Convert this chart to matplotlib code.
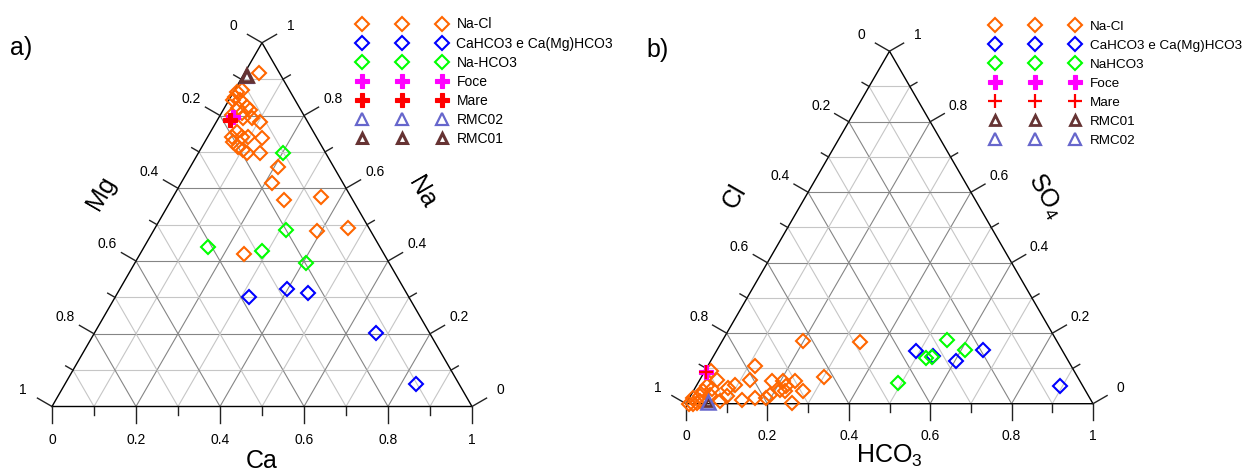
import numpy as np
import matplotlib.pyplot as plt
from matplotlib.lines import Line2D

plt.rcParams['font.family'] = ['Liberation Sans', 'DejaVu Sans']
plt.rcParams['mathtext.fontset'] = 'custom'
plt.rcParams['mathtext.rm'] = 'Liberation Sans'
plt.rcParams['mathtext.it'] = 'Liberation Sans:italic'

SQ = np.sqrt(3) / 2

ORANGE = '#ff6600'
BLUE = '#0000ff'
GREEN = '#00ff00'
MAGENTA = '#ff00ff'
RED = '#ff0000'
SLATE = '#6666cc'
BROWN = '#663333'

# ---- a) cations, fractions (Ca, Mg, Na)
nacl_ca = [0.036, 0.007, 0.017, 0.010, 0.026, 0.010, 0.052, 0.033, 0.064, 0.027, 0.048,
           0.058, 0.079, 0.104, 0.062, 0.081, 0.096, 0.067, 0.086, 0.102, 0.146, 0.130,
           0.115, 0.208, 0.217, 0.268, 0.354, 0.389, 0.460, 0.247, 0.057]
nacl_mg = [0.048, 0.127, 0.113, 0.138, 0.131, 0.147, 0.124, 0.146, 0.121, 0.172, 0.145,
           0.149, 0.128, 0.113, 0.182, 0.177, 0.162, 0.205, 0.200, 0.193, 0.157, 0.132,
           0.188, 0.133, 0.168, 0.164, 0.071, 0.128, 0.049, 0.334, 0.201]
nacl_na = [0.916, 0.866, 0.870, 0.852, 0.843, 0.843, 0.824, 0.821, 0.815, 0.801, 0.807,
           0.793, 0.793, 0.783, 0.756, 0.742, 0.742, 0.728, 0.714, 0.705, 0.697, 0.738,
           0.697, 0.659, 0.615, 0.568, 0.575, 0.483, 0.491, 0.419, 0.742]

cahco3_ca = [0.318, 0.398, 0.453, 0.669, 0.836]
cahco3_mg = [0.381, 0.280, 0.234, 0.128, 0.102]
cahco3_na = [0.301, 0.322, 0.313, 0.203, 0.062]

nahco3_ca = [0.201, 0.314, 0.152, 0.286, 0.407]
nahco3_mg = [0.102, 0.201, 0.410, 0.286, 0.198]
nahco3_na = [0.697, 0.485, 0.438, 0.428, 0.395]

foce_a = (0.033, 0.170, 0.797)
mare_a = (0.030, 0.182, 0.788)
rmc02_a = (0.011, 0.084, 0.905)
rmc01_a = (0.009, 0.082, 0.909)

# ---- b) anions, fractions (HCO3, Cl, SO4)
nacl_hco3 = [0.198, 0.341, 0.117, 0.301, 0.123, 0.093, 0.081, 0.041, 0.026, 0.025, 0.179,
             0.206, 0.222, 0.236, 0.211, 0.270, 0.259, 0.189, 0.161, 0.131, 0.090, 0.081,
             0.025, 0.017, 0.007, 0.024, 0.046, 0.193, 0.226, 0.043, 0.014, 0.010, 0.030]
nacl_cl = [0.625, 0.485, 0.777, 0.623, 0.809, 0.853, 0.874, 0.891, 0.925, 0.940, 0.758,
           0.731, 0.729, 0.701, 0.749, 0.695, 0.738, 0.794, 0.822, 0.858, 0.889, 0.912,
           0.973, 0.983, 0.993, 0.955, 0.928, 0.781, 0.739, 0.914, 0.892, 0.975, 0.962]
nacl_so4 = [0.177, 0.174, 0.106, 0.076, 0.068, 0.054, 0.045, 0.068, 0.049, 0.035, 0.063,
            0.063, 0.049, 0.063, 0.040, 0.035, 0.003, 0.017, 0.017, 0.011, 0.021, 0.007,
            0.002, 0.000, 0.000, 0.021, 0.026, 0.026, 0.035, 0.043, 0.094, 0.015, 0.008]

cahco3_hco3 = [0.489, 0.541, 0.603, 0.654, 0.894]
cahco3_cl = [0.361, 0.325, 0.277, 0.195, 0.057]
cahco3_so4 = [0.150, 0.134, 0.120, 0.151, 0.049]

nahco3_hco3 = [0.551, 0.525, 0.538, 0.610, 0.492]
nahco3_cl = [0.269, 0.345, 0.330, 0.239, 0.448]
nahco3_so4 = [0.180, 0.130, 0.132, 0.151, 0.060]

foce_b = (0.005, 0.906, 0.089)
mare_b = (0.003, 0.906, 0.091)
rmc01_b = (0.053, 0.943, 0.004)
rmc02_b = (0.053, 0.943, 0.004)


def tern(a, b, c):
    # a: bottom-right vertex, b: bottom-left vertex, c: apex
    a, b, c = (np.atleast_1d(np.asarray(v, float)) for v in (a, b, c))
    s = a + b + c
    return (a + c / 2) / s, c * SQ / s


def frame(ax, left_name, right_name, bottom_name):
    for i in range(1, 10):
        t = i / 10
        col = '#858585' if i % 2 == 0 else '#c6c6c6'
        kw = dict(color=col, lw=0.8, zorder=1)
        ax.plot([t / 2, 1 - t / 2], [t * SQ, t * SQ], **kw)
        ax.plot([t, (1 + t) / 2], [0, (1 - t) * SQ], **kw)
        ax.plot([1 - t, (1 - t) / 2], [0, (1 - t) * SQ], **kw)
    ax.plot([0, 1, 0.5, 0], [0, 0, SQ, 0], color='black', lw=1.0, zorder=2)

    d = 0.079
    for i in range(11):
        t = i / 10
        L = 0.04 if i % 2 == 0 else 0.02
        kw = dict(color='#222222', lw=1.0, zorder=2, clip_on=False)
        ax.plot([t, t], [0, -L], **kw)
        px, py = (1 - t) / 2, (1 - t) * SQ
        ax.plot([px, px - L * SQ], [py, py + L / 2], **kw)
        qx, qy = 1 - t / 2, t * SQ
        ax.plot([qx, qx + L * SQ], [qy, qy + L / 2], **kw)
        if i % 2 == 0:
            lab = f'{t:g}'
            tk = dict(ha='center', va='center', fontsize=10)
            ax.text(t, -d, lab, **tk)
            ax.text(px - d * SQ, py + d / 2, lab, **tk)
            ax.text(qx + d * SQ, qy + d / 2, lab, **tk)

    D = 0.152
    ax.text(0.25 - D * SQ, SQ / 2 + D / 2, left_name, rotation=60, fontsize=18,
            ha='center', va='center', rotation_mode='anchor')
    ax.text(0.75 + D * SQ, SQ / 2 + D / 2, right_name, rotation=-60, fontsize=18,
            ha='center', va='center', rotation_mode='anchor')
    ax.text(0.5, -0.146, bottom_name, fontsize=18, ha='center', va='baseline')


fig = plt.figure(figsize=(12.45, 4.71), dpi=100)

axa = fig.add_axes([0, 0, 622 / 1245, 1])
axa.set_xlim(-52 / 420, 570 / 420)
axa.set_ylim(-64.5 / 420, 406.5 / 420)
axa.axis('off')

axb = fig.add_axes([622 / 1245, 0, 623 / 1245, 1])
axb.set_xlim(-64 / 407, 559 / 407)
axb.set_ylim(-67.3 / 407, 403.7 / 407)
axb.axis('off')

frame(axa, 'Mg', 'Na', 'Ca')
frame(axb, 'Cl', r'SO$_4$', r'HCO$_3$')

dia = dict(marker='D', ms=7.3, mfc='none', mew=1.5, ls='none')

# a)
sty_a = [
    ('Na-Cl', (nacl_ca, nacl_mg, nacl_na), dict(dia, mec=ORANGE)),
    ('CaHCO3 e Ca(Mg)HCO3', (cahco3_ca, cahco3_mg, cahco3_na), dict(dia, mec=BLUE)),
    ('Na-HCO3', (nahco3_ca, nahco3_mg, nahco3_na), dict(dia, mec=GREEN)),
    ('Foce', foce_a, dict(marker='P', ms=10.5, mfc=MAGENTA, mec=MAGENTA, mew=0.8, ls='none')),
    ('Mare', mare_a, dict(marker='P', ms=10.5, mfc=RED, mec=RED, mew=0.8, ls='none')),
    ('RMC02', rmc02_a, dict(marker='^', ms=9, mfc='none', mec=SLATE, mew=1.6, ls='none')),
    ('RMC01', rmc01_a, dict(marker='^', ms=8, mfc='none', mec=BROWN, mew=2.6, ls='none')),
]
leg_a = {'RMC02': dict(ms=9), 'RMC01': dict(ms=6.5, mew=2.2)}

# b)
sty_b = [
    ('Na-Cl', (nacl_hco3, nacl_cl, nacl_so4), dict(dia, mec=ORANGE)),
    ('CaHCO3 e Ca(Mg)HCO3', (cahco3_hco3, cahco3_cl, cahco3_so4), dict(dia, mec=BLUE)),
    ('NaHCO3', (nahco3_hco3, nahco3_cl, nahco3_so4), dict(dia, mec=GREEN)),
    ('Foce', foce_b, dict(marker='P', ms=10.5, mfc=MAGENTA, mec=MAGENTA, mew=0.8, ls='none')),
    ('Mare', mare_b, dict(marker='+', ms=10.5, mec=RED, mew=1.6, ls='none')),
    ('RMC01', rmc01_b, dict(marker='^', ms=6, mfc='none', mec=BROWN, mew=2.0, ls='none')),
    ('RMC02', rmc02_b, dict(marker='^', ms=10.5, mfc='none', mec=SLATE, mew=1.8, ls='none')),
]
leg_b = {'RMC01': dict(ms=6.5, mew=2.0), 'RMC02': dict(ms=9, mew=1.6)}


def draw(ax, styles, leg_over, x0, y0, fs, spacing):
    handles, labels = [], []
    for k, (lab, comp, st) in enumerate(styles):
        x, y = tern(*comp)
        ax.plot(x, y, zorder=3 + k, clip_on=False, **st)
        handles.append(Line2D([], [], **dict(st, **leg_over.get(lab, {}))))
        labels.append(lab)
    fpx = fs * 100 / 72
    # three marker columns 40 px apart, label 15 px after the last one
    fig.legend(handles, labels, numpoints=3, loc='upper left',
               bbox_to_anchor=((x0 - 0.3 * fpx) / 1245, 1 - y0 / 471),
               bbox_transform=fig.transFigure,
               frameon=False, fontsize=fs, handlelength=80 / fpx + 0.6,
               handletextpad=15 / fpx - 0.3,
               labelspacing=spacing, borderpad=0, borderaxespad=0)


draw(axa, sty_a, leg_a, 361.5, 17.5, 10, 0.37)
draw(axb, sty_b, leg_b, 995, 20.5, 9.7, 0.49)

fig.text(10 / 1245, 1 - 48 / 471, 'a)', fontsize=18, ha='left', va='center')
fig.text(646 / 1245, 1 - 50 / 471, 'b)', fontsize=18, ha='left', va='center')

fig.savefig('out.png', dpi=100)
